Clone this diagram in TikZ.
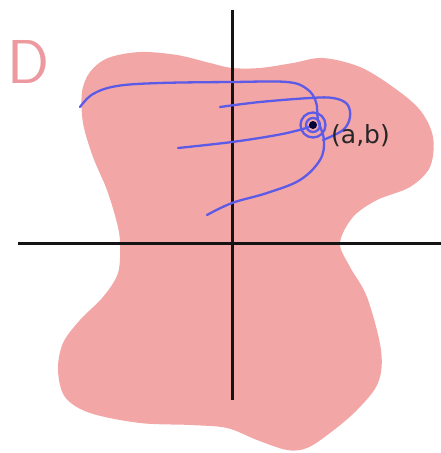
\documentclass[tikz,border=0pt]{standalone}
\usepackage{fontspec}
\newfontfamily\labfont{DejaVu Sans}
\begin{document}
\begin{tikzpicture}[x=1pt,y=-1pt,
  region/.style={fill=regionpink,draw=none},
  axis/.style={line width=3pt,draw=black!92},
  stroke/.style={draw=penblue,line width=2.3pt,line cap=round,line join=round}]
\definecolor{regionpink}{HTML}{F3A6A6}
\definecolor{penblue}{HTML}{5B5BE8}
\definecolor{dpink}{HTML}{EC9AA0}
\useasboundingbox (0,0) rectangle (441,453);
% region D
\path[region] plot[smooth cycle,tension=0.55] coordinates {
 (82,92) (90,72) (108,58) (140,52) (177,55) (210,63) (232,68) (260,68) (293,63) (323,58)
 (360,67) (393,87) (420,110) (433,137) (430,167) (410,187) (377,200) (353,217) (340,243)
 (350,267) (367,297) (381,350) (378,383) (357,410) (330,433) (307,448) (287,450)
 (257,440) (227,428) (190,425) (140,423) (90,413) (65,397) (58,370) (63,343) (80,320)
 (103,297) (118,273) (120,243) (117,223) (107,190) (93,157) (83,123)};
% axes
\coordinate (yt) at (232,10);
\coordinate (yb) at (232,400);
\coordinate (xl) at (18,243);
\coordinate (xr) at (441,243);
\draw[axis] (xl) -- (xr);
\draw[axis] (yt) -- (yb);
% paths approaching (a,b)
\draw[stroke] plot[smooth,tension=0.6] coordinates {
 (80,107) (93,94) (117,86) (160,83) (232,82) (287,82) (307,89) (316,102) (318,120)
 (324,140) (320,160) (300,180) (267,193) (232,203) (207,215)};
\draw[stroke] plot[smooth,tension=0.6] coordinates {
 (220,107) (260,102) (310,98) (333,98) (347,104) (350,117) (343,130) (323,140)};
\draw[stroke] plot[smooth,tension=0.6] coordinates {
 (178,148) (232,142) (277,135) (303,129) (313,125)};
\node[stroke,circle,minimum size=25pt,inner sep=0pt] (outer) at (313,125) {};
\node[stroke,circle,minimum size=14pt,inner sep=0pt] (inner) at (313,125) {};
\node[circle,fill=black!80!blue,minimum size=8pt,inner sep=0pt] (pt) at (313,125) {};
% labels
\node[anchor=west,inner sep=0pt,font=\labfont\fontsize{25}{27}\selectfont,text=black!85] (lab) at (331,136) {(a,b)};
\node[inner sep=0pt,font=\sffamily\fontsize{62}{64}\selectfont,text=dpink] (D) at (29,62) {D};
\end{tikzpicture}
\end{document}
